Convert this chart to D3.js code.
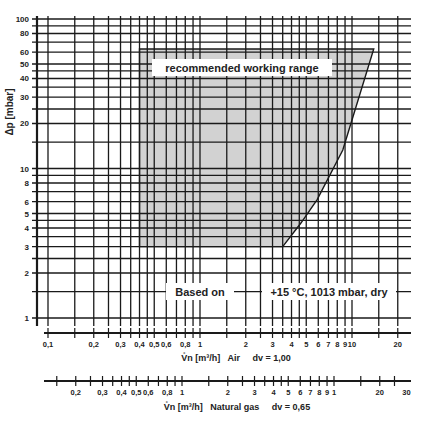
<!DOCTYPE html><html><head><meta charset="utf-8"><script src="https://cdn.jsdelivr.net/npm/d3@7"></script>
<style>body{margin:0;background:#fff}text{font-family:"Liberation Sans",Arial,sans-serif;font-weight:bold;fill:#222}</style></head><body>
<script>
const gridX=[0.1,0.15,0.2,0.25,0.3,0.35,0.4,0.45,0.5,0.6,0.7,0.8,0.9,1,1.5,2,2.5,3,3.5,4,4.5,5,6,7,8,9,10,15,20];
const gridY=[1,1.5,2,2.5,3,3.5,4,4.5,5,6,7,8,9,10,15,20,25,30,35,40,45,50,60,70,80,90,100];
const yLabels=[1,2,3,4,5,6,8,10,20,30,40,50,60,80,100];
const airLabels=[[0.1,"0,1"],[0.2,"0,2"],[0.3,"0,3"],[0.4,"0,4"],[0.5,"0,5"],[0.6,"0,6"],[0.8,"0,8"],[1,"1"],[2,"2"],[3,"3"],[4,"4"],[5,"5"],[6,"6"],[7,"7"],[8,"8"],[9,"9"],[10,"10"],[20,"20"]];
const gasTicks=[0.15,0.2,0.25,0.3,0.35,0.4,0.45,0.5,0.6,0.7,0.8,0.9,1,1.5,2,2.5,3,3.5,4,4.5,5,6,7,8,9,10,15,20,25];
const gasLabels=[[0.2,"0,2"],[0.3,"0,3"],[0.4,"0,4"],[0.5,"0,5"],[0.6,"0,6"],[0.8,"0,8"],[1,"1"],[2,"2"],[3,"3"],[4,"4"],[5,"5"],[6,"6"],[7,"7"],[8,"8"],[9,"9"],[10,"1"],[20,"20"],[30,"30"]];
const rangeBox=[[0.4,63],[13.9,63],[8.7,13.3],[5.9,6.2],[4.6,4.3],[3.5,3],[0.4,3]];

const svg=d3.select("body").append("svg").attr("width",428).attr("height",423);
const x=d3.scaleLog().domain([0.1,10]).range([48,352]);
const xg=d3.scaleLog().domain([1,10]).range([182,334]);
const y=d3.scaleLog().domain([1,100]).range([318,19]);
const L=37,R=411,T=16,B=326;
const line=d3.line().x(d=>x(d[0])).y(d=>y(d[1]));
svg.append("path").attr("d",line(rangeBox)+"Z").attr("fill","#d2d2d2").attr("stroke","none");
const g=svg.append("g").attr("stroke","#1a1a1a").attr("stroke-width",1.3);
gridX.forEach(v=>g.append("line").attr("x1",x(v)).attr("x2",x(v)).attr("y1",T).attr("y2",B));
gridY.forEach(v=>g.append("line").attr("x1",32).attr("x2",R).attr("y1",y(v)).attr("y2",y(v)));
svg.append("path").attr("d",line(rangeBox)+"Z").attr("fill","none").attr("stroke","#1a1a1a").attr("stroke-width",1.4);
svg.append("line").attr("x1",L).attr("x2",L).attr("y1",T).attr("y2",B).attr("stroke","#1a1a1a").attr("stroke-width",2.2);
yLabels.forEach(v=>svg.append("text").attr("x",29).attr("y",y(v)+3).attr("text-anchor","end").attr("font-size",8).text(v));
svg.append("text").attr("transform","translate(13,112) rotate(-90)").attr("text-anchor","middle").attr("font-size",10).text("Δp [mbar]");
function box(tx,cx,cy,w){svg.append("rect").attr("x",cx-w/2).attr("y",cy-9).attr("width",w).attr("height",17).attr("fill","#fff");
 svg.append("text").attr("x",cx).attr("y",cy+4).attr("text-anchor","middle").attr("font-size",11).text(tx);}
box("recommended working range",242,68,180);
box("Based on",200,292,68);
box("+15 °C, 1013 mbar, dry",329,292,134);
const ay=333;
svg.append("line").attr("x1",44).attr("x2",R).attr("y1",ay).attr("y2",ay).attr("stroke","#1a1a1a").attr("stroke-width",2.2);
gridX.forEach(v=>svg.append("line").attr("x1",x(v)).attr("x2",x(v)).attr("y1",ay-5).attr("y2",ay+5).attr("stroke","#1a1a1a").attr("stroke-width",1.2));
airLabels.forEach(d=>svg.append("text").attr("x",x(d[0])).attr("y",ay+14).attr("text-anchor","middle").attr("font-size",7.5).text(d[1]));
svg.append("text").attr("x",236).attr("y",361).attr("text-anchor","middle").attr("font-size",9).attr("xml:space","preserve").text("V̊n [m³/h]   Air     dv = 1,00");
const gy=381;
svg.append("line").attr("x1",44).attr("x2",R).attr("y1",gy).attr("y2",gy).attr("stroke","#1a1a1a").attr("stroke-width",2.2);
gasTicks.forEach(v=>svg.append("line").attr("x1",xg(v)).attr("x2",xg(v)).attr("y1",gy-5).attr("y2",gy+5).attr("stroke","#1a1a1a").attr("stroke-width",1.2));
gasLabels.forEach(d=>svg.append("text").attr("x",xg(d[0])).attr("y",gy+14).attr("text-anchor","middle").attr("font-size",7.5).text(d[1]));
svg.append("text").attr("x",237).attr("y",410).attr("text-anchor","middle").attr("font-size",9).attr("xml:space","preserve").text("V̊n [m³/h]   Natural gas     dv = 0,65");
</script></body></html>
